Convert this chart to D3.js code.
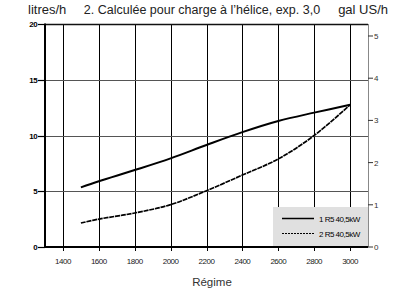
<!DOCTYPE html>
<html><head><meta charset="utf-8">
<script src="https://cdn.jsdelivr.net/npm/d3@7"></script>
<style>
html,body{margin:0;padding:0;background:#fff;}
svg{display:block;font-family:"Liberation Sans",Arial,sans-serif;}
</style></head>
<body>
<svg id="c" width="402" height="289"></svg>
<script>
const rpm = [1500, 1600, 1800, 2000, 2200, 2400, 2600, 2800, 3000];
const series1 = [5.35, 5.9, 6.9, 7.95, 9.15, 10.3, 11.3, 12.05, 12.75];
const series2 = [2.15, 2.5, 3.05, 3.8, 5.05, 6.45, 7.9, 10.0, 12.75];
const seriesNames = ["1 R5 40,5kW", "2 R5 40,5kW"];
const xTicks = [1400, 1600, 1800, 2000, 2200, 2400, 2600, 2800, 3000];
const yTicks = [0, 5, 10, 15, 20];
const galTicks = [0, 1, 2, 3, 4, 5];
const LITRES_PER_GAL = 3.785;

const svg = d3.select("#c");
const L = 45, R = 368, T = 24, B = 247;
const x = d3.scaleLinear().domain([1300, 3100]).range([L, R]);
const y = d3.scaleLinear().domain([0, 20]).range([B, T]);

// vertical gridlines
svg.append("g").selectAll("line").data(xTicks).join("line")
  .attr("x1", d => Math.round(x(d)) + 0.5).attr("x2", d => Math.round(x(d)) + 0.5)
  .attr("y1", T).attr("y2", B + 4)
  .attr("stroke", "#000").attr("stroke-width", 1);

// horizontal gridlines
svg.append("g").selectAll("line").data(yTicks.filter(d => d > 0 && d < 20)).join("line")
  .attr("x1", L).attr("x2", R)
  .attr("y1", d => Math.round(y(d)) + 0.5).attr("y2", d => Math.round(y(d)) + 0.5)
  .attr("stroke", "#555").attr("stroke-width", 1.2);

// legend box (covers grid)
svg.append("rect").attr("x", 273).attr("y", 207).attr("width", R - 273).attr("height", B - 207)
  .attr("fill", "#e0e0e0");

// top border
svg.append("line").attr("x1", L).attr("x2", R).attr("y1", T + 0.5).attr("y2", T + 0.5)
  .attr("stroke", "#111").attr("stroke-width", 1.3);
// right axis
svg.append("line").attr("x1", R + 0.5).attr("x2", R + 0.5).attr("y1", T).attr("y2", B)
  .attr("stroke", "#888").attr("stroke-width", 1);
svg.append("g").selectAll("line").data(galTicks).join("line")
  .attr("x1", R).attr("x2", R + 5)
  .attr("y1", d => y(d * LITRES_PER_GAL)).attr("y2", d => y(d * LITRES_PER_GAL))
  .attr("stroke", "#333").attr("stroke-width", 1);
svg.append("g").selectAll("text").data(galTicks).join("text")
  .attr("x", R + 6).attr("y", d => y(d * LITRES_PER_GAL) + 3)
  .attr("font-size", 8).attr("fill", "#333").attr("letter-spacing", -0.3)
  .text(d => d);

// left axis
svg.append("line").attr("x1", L).attr("x2", L).attr("y1", T - 0.5).attr("y2", B + 1)
  .attr("stroke", "#000").attr("stroke-width", 2);
svg.append("g").selectAll("line").data(yTicks).join("line")
  .attr("x1", L - 7).attr("x2", L)
  .attr("y1", d => Math.round(y(d)) + 0.5).attr("y2", d => Math.round(y(d)) + 0.5)
  .attr("stroke", "#000").attr("stroke-width", 1.2);
svg.append("g").selectAll("text").data(yTicks).join("text")
  .attr("x", L - 8).attr("y", d => y(d) + 3).attr("text-anchor", "end")
  .attr("font-size", 8).attr("font-weight", "bold").attr("letter-spacing", -0.6)
  .text(d => d);

// bottom axis
svg.append("line").attr("x1", L).attr("x2", R).attr("y1", B).attr("y2", B)
  .attr("stroke", "#000").attr("stroke-width", 2);
svg.append("g").selectAll("text").data(xTicks).join("text")
  .attr("x", d => x(d)).attr("y", 264).attr("text-anchor", "middle")
  .attr("font-size", 8).attr("letter-spacing", -0.5).attr("fill", "#222")
  .text(d => d);

// curves
const line = d3.line().x(d => x(d[0])).y(d => y(d[1])).curve(d3.curveCatmullRom.alpha(0.5));
svg.append("path").datum(rpm.map((r, i) => [r, series1[i]]))
  .attr("d", line).attr("fill", "none").attr("stroke", "#000").attr("stroke-width", 2);
svg.append("path").datum(rpm.map((r, i) => [r, series2[i]]))
  .attr("d", line).attr("fill", "none").attr("stroke", "#000").attr("stroke-width", 1.7)
  .attr("stroke-dasharray", "5,0.8");

// legend
const lg = svg.append("g");
[0, 1].forEach(i => {
  const ly = 218.5 + i * 15;
  lg.append("line").attr("x1", 282).attr("x2", 314).attr("y1", ly).attr("y2", ly)
    .attr("stroke", "#000").attr("stroke-width", i === 0 ? 1.5 : 1)
    .attr("stroke-dasharray", i === 0 ? null : "2,1");
  lg.append("text").attr("x", 319).attr("y", ly + 3).attr("font-size", 8)
    .attr("letter-spacing", -0.5).text(seriesNames[i]);
});

// titles
svg.append("text").attr("x", 28).attr("y", 14).attr("font-size", 13).attr("fill", "#222").text("litres/h");
svg.append("text").attr("x", 202).attr("y", 14).attr("text-anchor", "middle").attr("font-size", 12.5).attr("fill", "#222")
  .text("2. Calculée pour charge à l’hélice, exp. 3,0");
svg.append("text").attr("x", 388).attr("y", 14).attr("text-anchor", "end").attr("font-size", 13).attr("fill", "#222").text("gal US/h");
svg.append("text").attr("x", 212).attr("y", 286).attr("text-anchor", "middle").attr("font-size", 11.5).attr("fill", "#333").text("Régime");
</script>
</body></html>
